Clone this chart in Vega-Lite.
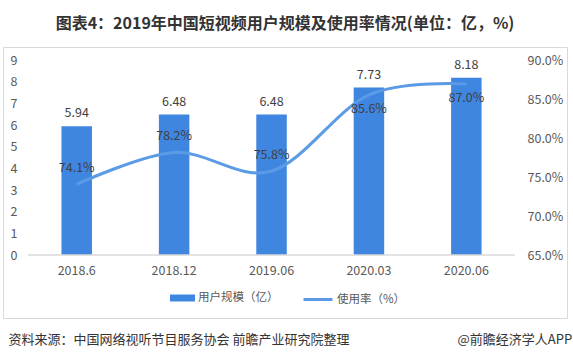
{
  "$schema": "https://vega.github.io/schema/vega-lite/v6.json",
  "width": 564,
  "height": 271,
  "autosize": {"type": "none"},
  "padding": {"left": 3, "top": 47, "right": 6, "bottom": 46},
  "background": "white",
  "config": {
    "font": "Noto Sans CJK SC",
    "view": {"stroke": "#d9d9d9", "strokeWidth": 1},
    "axis": {"labelColor": "#595959", "labelFontSize": 12.5, "grid": false, "domain": false, "ticks": false, "labelPadding": 0, "titleFontWeight": "normal", "titleFontSize": 13, "titleColor": "#333333"}
  },
  "title": {
    "text": "图表4：2019年中国短视频用户规模及使用率情况(单位：亿，%)",
    "fontSize": 16,
    "fontWeight": "bold",
    "color": "#333333",
    "anchor": "middle",
    "frame": "group",
    "baseline": "middle",
    "offset": 7
  },
  "data": {
    "values": [
      {"period": "2018.6", "users": 5.94, "rate": 0.741},
      {"period": "2018.12", "users": 6.48, "rate": 0.782},
      {"period": "2019.06", "users": 6.48, "rate": 0.758},
      {"period": "2020.03", "users": 7.73, "rate": 0.856},
      {"period": "2020.06", "users": 8.18, "rate": 0.870}
    ]
  },
  "layer": [
    {
      "layer": [
        {
          "mark": {"type": "bar", "width": {"band": 0.313}},
          "encoding": {
            "x": {"field": "period", "type": "nominal", "sort": null,
                  "scale": {"paddingInner": 0, "paddingOuter": 0.395, "align": 0.325, "round": false},
                  "axis": {"orient": "bottom", "offset": -53.5, "labelAngle": 0, "title": null}},
            "y": {"field": "users", "type": "quantitative",
                  "scale": {"domain": [-2.907, 9.6], "nice": false, "zero": false},
                  "axis": {"orient": "left", "offset": -14, "values": [0,1,2,3,4,5,6,7,8,9], "tickCount": 12,
                           "labelOverlap": false,
                           "title": "资料来源：中国网络视听节目服务协会 前瞻产业研究院整理",
                           "titleAngle": 0, "titleAlign": "left", "titleBaseline": "middle",
                           "titleX": -9, "titleY": 292}},
            "fill": {"datum": "用户规模（亿）", "type": "nominal",
                     "scale": {"range": ["#3f86e0"]},
                     "legend": {"orient": "none", "legendX": 167, "legendY": 238.5, "direction": "horizontal",
                                "title": null, "padding": 0,
                                "symbolType": "M-1,-0.28L1,-0.28L1,0.28L-1,0.28Z", "symbolSize": 625, "symbolStrokeWidth": 0,
                                "labelFontSize": 11.5, "labelColor": "#595959", "labelOffset": 3}}
          }
        },
        {
          "mark": {"type": "rect", "stroke": "#d9d9d9", "strokeWidth": 1, "fillOpacity": 0},
          "encoding": {
            "x": {"field": "period", "type": "nominal", "sort": null},
            "y": {"datum": 0, "type": "quantitative"},
            "y2": {"datum": 0}
          }
        },
        {
          "mark": {"type": "text", "dy": -13, "baseline": "middle", "fontSize": 12.5, "color": "#404040"},
          "encoding": {
            "x": {"field": "period", "type": "nominal", "sort": null},
            "y": {"field": "users", "type": "quantitative"},
            "text": {"field": "users", "type": "quantitative", "format": ".2f"}
          }
        }
      ]
    },
    {
      "layer": [
        {
          "mark": {"type": "line", "interpolate": "cardinal", "strokeWidth": 3},
          "encoding": {
            "x": {"field": "period", "type": "nominal", "sort": null},
            "y": {"field": "rate", "type": "quantitative",
                  "scale": {"domain": [0.5692, 0.9176], "nice": false, "zero": false},
                  "axis": {"orient": "right", "offset": -40, "values": [0.65, 0.70, 0.75, 0.80, 0.85, 0.90], "tickCount": 12,
                           "format": ".1%", "labelOverlap": false,
                           "title": "@前瞻经济学人APP",
                           "titleAngle": 0, "titleAlign": "left", "titleBaseline": "middle",
                           "titleX": -70, "titleY": 292}},
            "stroke": {"datum": "使用率（%）", "type": "nominal",
                       "scale": {"range": ["#5b9be6"]},
                       "legend": {"orient": "none", "legendX": 299, "legendY": 236.5, "direction": "horizontal",
                                  "title": null, "padding": 0,
                                  "symbolType": "stroke", "symbolSize": 841, "symbolStrokeWidth": 3,
                                  "labelFontSize": 11.5, "labelColor": "#595959", "labelOffset": 3}}
          }
        },
        {
          "transform": [{"filter": "datum.rate < 0.8"}],
          "mark": {"type": "text", "dy": -16, "baseline": "middle", "fontSize": 12.5, "color": "#404040"},
          "encoding": {
            "x": {"field": "period", "type": "nominal", "sort": null},
            "y": {"field": "rate", "type": "quantitative"},
            "text": {"field": "rate", "type": "quantitative", "format": ".1%"}
          }
        },
        {
          "transform": [{"filter": "datum.rate >= 0.8"}],
          "mark": {"type": "text", "dy": 14, "baseline": "middle", "fontSize": 12.5, "color": "#404040"},
          "encoding": {
            "x": {"field": "period", "type": "nominal", "sort": null},
            "y": {"field": "rate", "type": "quantitative"},
            "text": {"field": "rate", "type": "quantitative", "format": ".1%"}
          }
        }
      ]
    }
  ],
  "resolve": {"scale": {"y": "independent"}, "axis": {"y": "independent"}}
}
